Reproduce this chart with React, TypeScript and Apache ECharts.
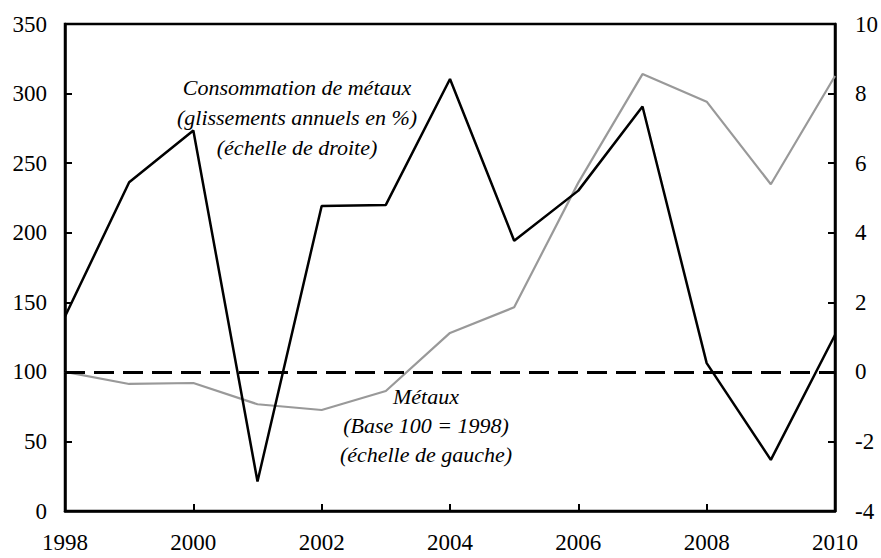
import React, { useEffect, useRef } from "react";
import * as echarts from "echarts";

const years = ["1998","1999","2000","2001","2002","2003","2004","2005","2006","2007","2008","2009","2010"];
const metaux = [100, 91.3, 92, 76.7, 72.6, 86.2, 128, 146.4, 236, 314, 294.2, 234.8, 312.6];
const consommation = [1.59, 5.45, 6.94, -3.15, 4.77, 4.8, 8.42, 3.77, 5.21, 7.63, 0.25, -2.53, 1.06];
const leftTicks = { min: 0, max: 350, interval: 50 };
const rightTicks = { min: -4, max: 10, interval: 2 };

const FONT = "Liberation Serif";

export default function App() {
  const ref = useRef<HTMLDivElement>(null);
  useEffect(() => {
    if (!ref.current) return;
    const chart = echarts.init(ref.current, null, { renderer: "svg" });
    const axisLine = { show: true, lineStyle: { color: "#000", width: 2.5 } };
    const axisTick = { show: true, inside: true, length: 7, lineStyle: { color: "#000", width: 2 } };
    chart.setOption({
      animation: false,
      backgroundColor: "#fff",
      grid: { left: 65, right: 45, top: 24, bottom: 47, show: true, borderColor: "#000", borderWidth: 2.5, containLabel: false },
      xAxis: {
        type: "category",
        data: years,
        boundaryGap: false,
        axisLine,
        axisTick: { ...axisTick, interval: 1 },
        axisLabel: { interval: 1, color: "#000", fontFamily: FONT, fontSize: 23, margin: 20 },
        splitLine: { show: false },
      },
      yAxis: [
        {
          type: "value",
          ...leftTicks,
          axisLine,
          axisTick,
          axisLabel: { color: "#000", fontFamily: FONT, fontSize: 23, margin: 18 },
          splitLine: { show: false },
        },
        {
          type: "value",
          position: "right",
          ...rightTicks,
          axisLine,
          axisTick,
          axisLabel: { color: "#000", fontFamily: FONT, fontSize: 23, margin: 20 },
          splitLine: { show: false },
        },
      ],
      series: [
        {
          name: "Métaux",
          type: "line",
          yAxisIndex: 0,
          data: metaux,
          symbol: "none",
          lineStyle: { color: "#999999", width: 2.2 },
          z: 2,
        },
        {
          name: "Consommation de métaux",
          type: "line",
          yAxisIndex: 1,
          data: consommation,
          symbol: "none",
          lineStyle: { color: "#000", width: 2.5 },
          z: 3,
          markLine: {
            silent: true,
            symbol: "none",
            label: { show: false },
            lineStyle: { color: "#000", width: 3, type: [20, 9] },
            data: [{ yAxis: 0 }],
          },
        },
      ],
      graphic: [
        {
          type: "text",
          x: 297,
          y: 117,
          style: {
            text: "Consommation de métaux\n(glissements annuels en %)\n(échelle de droite)",
            x: 0,
            y: 0,
            textAlign: "center",
            textVerticalAlign: "middle",
            fontStyle: "italic",
            fontSize: 22,
            fontFamily: FONT,
            lineHeight: 30,
            fill: "#000",
          },
        },
        {
          type: "text",
          x: 426,
          y: 425,
          style: {
            text: "Métaux\n(Base 100 = 1998)\n(échelle de gauche)",
            x: 0,
            y: 0,
            textAlign: "center",
            textVerticalAlign: "middle",
            fontStyle: "italic",
            fontSize: 22,
            fontFamily: FONT,
            lineHeight: 29,
            fill: "#000",
          },
        },
      ],
    });
    return () => chart.dispose();
  }, []);
  return <div ref={ref} style={{ width: 881, height: 558, position: "absolute", left: 0, top: 0 }} />;
}
